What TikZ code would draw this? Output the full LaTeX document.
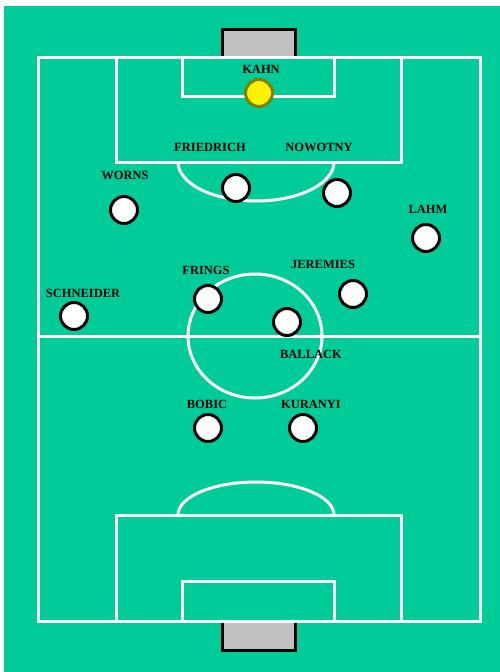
\documentclass[tikz,border=0pt]{standalone}
\usepackage{fontspec}
\setmainfont{Liberation Serif}
\definecolor{pitch}{RGB}{0,204,153}
\definecolor{goalgray}{RGB}{192,192,192}
\definecolor{keeperedge}{RGB}{128,128,0}
\begin{document}
\begin{tikzpicture}[x=1pt,y=-1pt,
  fieldline/.style={draw=white,line width=3pt},
  goalbox/.style={draw=black,fill=goalgray,line width=3pt},
  player/.style={circle,draw=black,fill=white,line width=3pt,minimum size=27pt,inner sep=0pt},
  keeper/.style={player,draw=keeperedge,fill=yellow},
  pname/.style={font=\fontsize{12.5}{14}\selectfont\bfseries,inner sep=0pt}]
\useasboundingbox (0,0) rectangle (500,672);
\fill[pitch] (4,6) rectangle (500,672);
% goals
\draw[goalbox] (222,57) rectangle (295,29);
\draw[goalbox] (222,621) rectangle (295,650);
% field lines
\draw[fieldline] (38,57) rectangle (480,621);
\draw[fieldline] (38,336) -- (480,336);
\draw[fieldline] (255,336) ellipse[x radius=67,y radius=62];
\draw[fieldline] (116,57) rectangle (401,162);
\draw[fieldline] (182,57) rectangle (334,96);
\draw[fieldline] (178,162) arc[start angle=180,end angle=0,x radius=78,y radius=39];
\draw[fieldline] (116,621) rectangle (401,515);
\draw[fieldline] (182,621) rectangle (334,581);
\draw[fieldline] (178,515) arc[start angle=180,end angle=360,x radius=78,y radius=33];
% players
\node[keeper] (kahn) at (259,93) {};
\node[player] (friedrich) at (236,188) {};
\node[player] (nowotny) at (337,193) {};
\node[player] (worns) at (124,210) {};
\node[player] (lahm) at (426,238) {};
\node[player] (frings) at (208,299) {};
\node[player] (jeremies) at (353,294) {};
\node[player] (schneider) at (74,316) {};
\node[player] (ballack) at (287,322) {};
\node[player] (bobic) at (208,428) {};
\node[player] (kuranyi) at (303,428) {};
% names
\node[pname] (lkahn) at (261,69) {KAHN};
\node[pname] (lfriedrich) at (210,147) {FRIEDRICH};
\node[pname] (lnowotny) at (319,147) {NOWOTNY};
\node[pname] (lworns) at (125,175) {WORNS};
\node[pname] (llahm) at (428,209) {LAHM};
\node[pname] (lfrings) at (206,270) {FRINGS};
\node[pname] (ljeremies) at (323,264) {JEREMIES};
\node[pname] (lschneider) at (83,293) {SCHNEIDER};
\node[pname] (lballack) at (311,354) {BALLACK};
\node[pname] (lbobic) at (207,404) {BOBIC};
\node[pname] (lkuranyi) at (311,404) {KURANYI};
\end{tikzpicture}
\end{document}
